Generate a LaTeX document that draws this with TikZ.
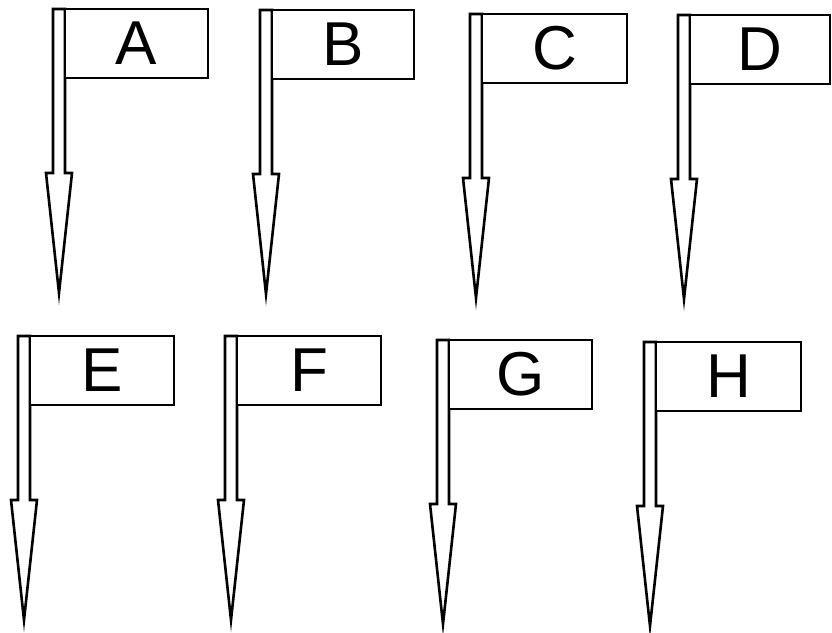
\documentclass[tikz,border=0pt]{standalone}
\usepackage{fontspec}
\setmainfont{Liberation Sans}
\tikzset{
  pole/.style={draw=black, fill=white, line width=2.6pt, line join=miter, miter limit=12},
  flagbox/.style={draw=black, fill=white, line width=2.6pt, rectangle, inner sep=0pt, outer sep=0pt,
    minimum height=69pt, font=\fontsize{62}{70}\selectfont}
}
% #1 name, #2 shaft left, #3 top, #4 flag right, #5 label
\newcommand\flagmark[5]{%
  \coordinate (#1tip) at (#2+7,#3+285);
  \draw[pole] (#2+1,#3+1) -- (#2+13,#3+1) -- (#2+13,#3+165) -- (#2+20,#3+165)
     -- (#1tip) -- (#2-6,#3+165) -- (#2+1,#3+165) -- cycle;
  \node[flagbox, minimum width={(#4-#2-14)*1pt}, anchor=north west] (#1) at (#2+13,#3+1) {#5};
}
\begin{document}
\begin{tikzpicture}[x=1pt,y=-1pt]
  \clip (0,0) rectangle (832,632);
  \fill[white] (0,0) rectangle (832,632);
  \flagmark{fA}{52}{8}{209}{A}
  \flagmark{fB}{259}{9}{415}{B}
  \flagmark{fC}{469}{13}{628}{C}
  \flagmark{fD}{677}{14}{831}{D}
  \flagmark{fE}{17}{335}{175}{E}
  \flagmark{fF}{224}{335}{382}{F}
  \flagmark{fG}{436}{339}{593}{G}
  \flagmark{fH}{643}{341}{802}{H}
\end{tikzpicture}
\end{document}
